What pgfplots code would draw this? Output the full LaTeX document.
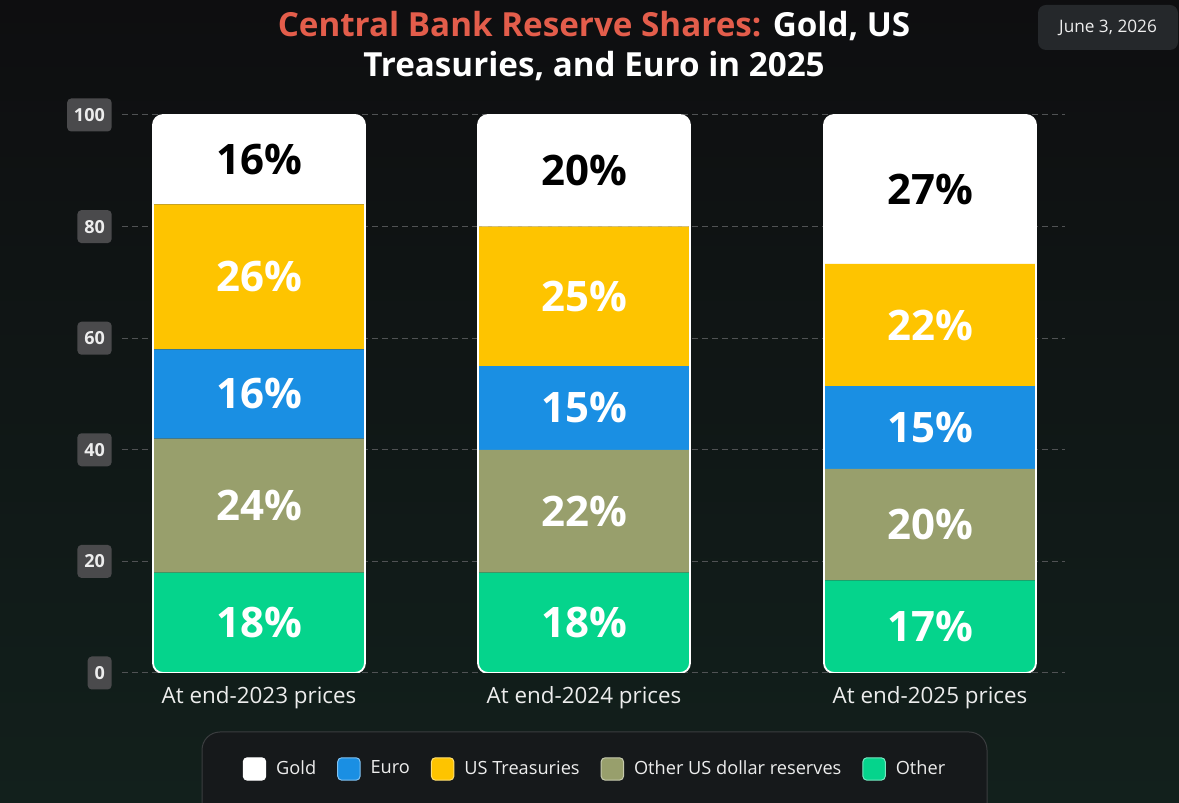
\documentclass[border=0pt]{standalone}
\usepackage{fontspec}
\setmainfont{Open Sans}
\usepackage{pgfplots}
\usepackage{pgfplotstable}
\pgfplotsset{compat=1.18}

\definecolor{bgtop}{HTML}{0E0E10}
\definecolor{bgmid}{HTML}{0F1112}
\definecolor{bgbot}{HTML}{12201C}
\definecolor{titlered}{HTML}{E35D4B}
\definecolor{goldc}{HTML}{FFFFFF}
\definecolor{ustc}{HTML}{FEC400}
\definecolor{euroc}{HTML}{1A8FE3}
\definecolor{ousdc}{HTML}{989F6C}
\definecolor{otherc}{HTML}{05D48C}
\definecolor{tickbox}{HTML}{4A4A4C}
\definecolor{gridc}{HTML}{505254}
\definecolor{datebox}{HTML}{25282B}
\definecolor{legfill}{HTML}{16191B}
\definecolor{legdraw}{HTML}{3A3D3F}
\definecolor{softwhite}{HTML}{EDEDED}

% Reserve shares (%) by valuation year, bottom segment first
\pgfplotstableread{
pos  other ousd euro ust  gold
259  18    24   16   26   16
584  18    22   15   25   20
930  16.6  20   14.8 21.9 26.7
}\reserves

\pgfplotsset{
  plotbox/.style={
    at={(61pt,65pt)}, anchor=south west,
    scale only axis, width=471.5pt, height=279pt,
    xmin=122, xmax=1065, ymin=0, ymax=100,
  },
  seg/.style={fill=#1, draw=none},
  sq/.style={legend image code/.code={%
    \draw[fill=#1, draw=#1!55!white, line width=0.5pt, rounded corners=2pt]
      (0pt,-5.6pt) rectangle (11.2pt,5.6pt);}},
}

\begin{document}
\begin{tikzpicture}[x=0.5pt,y=0.5pt]
\useasboundingbox (0,0) rectangle (1179,803);
\clip (0,0) rectangle (1179,803);
\shade[top color=bgtop, middle color=bgmid, bottom color=bgbot] (0,0) rectangle (1179,803);

% title
\node[anchor=base, font=\fontsize{16.6pt}{20pt}\selectfont\bfseries, text=white]
  at (594,766) {\textcolor{titlered}{Central Bank Reserve Shares:} Gold, US};
\node[anchor=base, font=\fontsize{16.6pt}{20pt}\selectfont\bfseries, text=white]
  at (594,726) {Treasuries, and Euro in 2025};

% date badge
\fill[datebox, rounded corners=4pt] (1038,753) rectangle (1178,798);
\node[anchor=base, font=\fontsize{8.6pt}{10pt}\selectfont, text=softwhite]
  at (1108,770) {June 3, 2026};

% legend frame
\draw[fill=legfill, draw=legdraw, line width=0.5pt, rounded corners=9pt]
  (202,-30) rectangle (987,71);

% grid and tick labels
\begin{axis}[plotbox,
  axis line style={draw=none}, major tick length=0pt,
  ymajorgrids, grid style={gridc, dash pattern=on 3pt off 2pt, line width=0.5pt},
  ytick={0,20,...,100},
  xtick={259,584,930},
  xticklabels={At end-2023 prices, At end-2024 prices, At end-2025 prices},
  xticklabel style={anchor=center, yshift=-12.5pt, text=softwhite,
    font=\fontsize{11.2pt}{13pt}\selectfont},
  yticklabel style={anchor=east, xshift=-5pt, fill=tickbox, rounded corners=2pt,
    text=softwhite, font=\fontsize{9pt}{11pt}\selectfont\bfseries,
    inner xsep=3.4pt, inner ysep=0pt, minimum height=16.5pt},
  /pgf/number format/assume math mode=true,
]
\end{axis}

% stacked bars, clipped to rounded columns; value labels sit mid-segment
\begin{scope}
\clip[rounded corners=5pt] (153,130) rectangle (365,688)
                           (478,130) rectangle (690,688)
                           (824,130) rectangle (1036,688);
\begin{axis}[plotbox, hide axis, ybar stacked, bar width=212,
  /pgf/number format/assume math mode=true,
  visualization depends on=rawy \as \segval,
  nodes near coords={\pgfmathprintnumber[fixed,precision=0,assume math mode=true]{\segval}\%},
  every node near coord/.append style={anchor=center, text=white,
    font=\fontsize{21pt}{24pt}\selectfont\bfseries},
]
\addplot[seg=otherc] table[x=pos, y=other] {\reserves};
\addplot[seg=ousdc]  table[x=pos, y=ousd]  {\reserves};
\addplot[seg=euroc]  table[x=pos, y=euro]  {\reserves};
\addplot[seg=ustc]   table[x=pos, y=ust]   {\reserves};
\addplot[seg=goldc, nodes near coords style={text=black}]
  table[x=pos, y=gold] {\reserves};
\end{axis}
\end{scope}

% column outlines and legend
\begin{axis}[plotbox, hide axis, ybar, bar width=212,
  legend columns=5,
  legend style={at={(axis cs:594,-17.2)}, anchor=center, draw=none, fill=none,
    font=\fontsize{9.1pt}{11pt}\selectfont, text=softwhite,
    inner sep=0pt, nodes={inner sep=0pt},
    /tikz/every odd column/.append style={column sep=5pt},
    /tikz/every even column/.append style={column sep=10.5pt}},
]
\addplot[forget plot, bar shift=0pt, fill=none, draw=white, line width=0.9pt,
  rounded corners=5pt] coordinates {(259,100) (584,100) (930,100)};
\addlegendimage{sq=goldc}\addlegendentry{Gold}
\addlegendimage{sq=euroc}\addlegendentry{Euro}
\addlegendimage{sq=ustc}\addlegendentry{US Treasuries}
\addlegendimage{sq=ousdc}\addlegendentry{Other US dollar reserves}
\addlegendimage{sq=otherc}\addlegendentry{Other}
\end{axis}
\end{tikzpicture}
\end{document}
